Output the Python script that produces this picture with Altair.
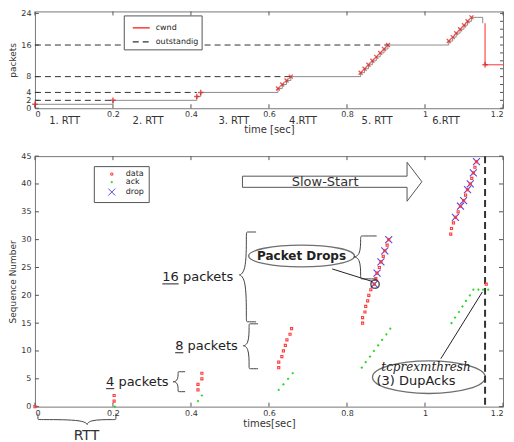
import altair as alt
import pandas as pd

FONT = "DejaVu Sans"

# ================= top panel data =================
cwnd_time = [0.0, 0.2, 0.415, 0.425, 0.623, 0.634, 0.645, 0.656,
             0.835, 0.845, 0.855, 0.865, 0.875, 0.885, 0.895, 0.905,
             1.061, 1.071, 1.080, 1.090, 1.100, 1.109, 1.119]
cwnd_value = [1, 2, 3, 4, 5, 6, 7, 8, 9, 10, 11, 12, 13, 14, 15, 16,
              17, 18, 19, 20, 21, 22, 23]
cwnd_tail_time = [1.135, 1.148]
cwnd_tail_value = [23, 21.5]
cut_time = [1.154, 1.154, 1.2]
cut_value = [21.5, 11, 11]
outstanding_level = [2, 4, 8, 16]
outstanding_end = [0.2, 0.415, 0.656, 0.905]
rtt_labels = ["1. RTT", "2. RTT", "3. RTT", "4.RTT", "5. RTT", "6.RTT"]
rtt_label_time = [0.076, 0.29, 0.51, 0.687, 0.877, 1.054]
top_y_ticks = [0, 2, 4, 8, 16, 24]
top_right_ticks = [0, 2, 4, 6, 8, 10, 12, 14, 16, 18, 20, 22, 24]
time_ticks = [0, 0.2, 0.4, 0.6, 0.8, 1.0, 1.2]

# ================= bottom panel data =================
data_time = [0.0, 0.203, 0.203, 0.418, 0.418, 0.428, 0.428,
             0.625, 0.625, 0.633, 0.637, 0.642, 0.646, 0.654, 0.658,
             0.840, 0.840, 0.846, 0.848, 0.853, 0.856, 0.861, 0.870,
             0.874, 0.877, 0.883, 0.887, 0.893, 0.897, 0.903, 0.907,
             1.066, 1.068, 1.073, 1.078, 1.085, 1.091, 1.099, 1.104,
             1.109, 1.116, 1.120, 1.124, 1.128, 1.132, 1.157]
data_seq = [0, 1, 2, 3, 4, 5, 6,
            7, 8, 9, 10, 11, 12, 13, 14,
            15, 16, 17, 18, 19, 20, 21, 22,
            23, 24, 25, 26, 27, 28, 29, 30,
            31, 32, 33, 34, 35, 36, 37, 38,
            39, 40, 41, 42, 43, 44, 22]
ack_time = [0.205, 0.418, 0.428, 0.625, 0.637, 0.649, 0.661,
            0.838, 0.848, 0.859, 0.869, 0.880, 0.890, 0.901, 0.911,
            1.068, 1.077, 1.087, 1.096, 1.105, 1.115, 1.124,
            1.137, 1.149, 1.162]
ack_seq = [0, 1, 2, 3, 4, 5, 6,
           7, 8, 9, 10, 11, 12, 13, 14,
           15, 16, 17, 18, 19, 20, 21,
           21, 21, 21]
drop_time = [0.870, 0.877, 0.887, 0.897, 0.907,
             1.078, 1.091, 1.099, 1.109, 1.116, 1.124, 1.132]
drop_seq = [22, 24, 26, 28, 30, 34, 36, 37, 39, 40, 42, 44]
seq_ticks = [0, 5, 10, 15, 20, 25, 30, 35, 40, 45]
retransmit_time = [1.154]

W = 469
H_TOP = 97
H_BOT = 251

xs = alt.Scale(domain=[0, 1.2], nice=False, zero=False)
ys_top = alt.Scale(domain=[0, 24.5], nice=False)
ys_bot = alt.Scale(domain=[0, 45], nice=False)

def x_axis(title, lp, tp):
    return alt.Axis(values=time_ticks, format=".1~f", title=title, ticks=False,
                    domain=False, grid=False, labelPadding=lp, titlePadding=tp,
                    labelFlush=True, labelOverlap=False,
                    labelFontSize=8, titleFontSize=10, labelFont=FONT, titleFont=FONT,
                    labelColor="#333", titleColor="#333", titleFontWeight="normal")

def y_axis(title, vals):
    return alt.Axis(values=vals, title=title, ticks=False, domain=False, grid=False,
                    labelPadding=4, titlePadding=1, minExtent=16, maxExtent=16,
                    labelOverlap=False, labelBound=False,
                    labelFontSize=8, titleFontSize=9, labelFont=FONT, titleFont=FONT,
                    labelColor="#333", titleColor="#333", titleFontWeight="normal")

XT = lambda f: alt.X(f, type="quantitative", scale=xs, axis=x_axis("time [sec]", 2, 6))
YT = lambda f: alt.Y(f, type="quantitative", scale=ys_top, axis=y_axis("packets", top_y_ticks))
XB = lambda f: alt.X(f, type="quantitative", scale=xs, axis=x_axis("times[sec]", 3, 1))
YB = lambda f: alt.Y(f, type="quantitative", scale=ys_bot, axis=y_axis("Sequence Number", seq_ticks))

XS_PATH = "M-1,-1L1,1M-1,1L1,-1"
PLUS_PATH = "M-1,0L1,0M0,-1L0,1"
SQ_PATH = "M-0.3,-0.3L0.3,-0.3L0.3,0.3L-0.3,0.3Z"
PLUS_SMALL = "M-0.32,0L0.32,0M0,-0.32L0,0.32"

# ---------------- top panel ----------------
step_df = pd.DataFrame({"t": cwnd_time + cwnd_tail_time,
                        "v": cwnd_value + cwnd_tail_value})
step_df["i"] = range(len(step_df))

rows = []
for lvl, end in zip(outstanding_level, outstanding_end):
    rows.append({"t": 0.0, "v": lvl, "series": "outstandig", "g": f"o{lvl}", "i": 0})
    rows.append({"t": end, "v": lvl, "series": "outstandig", "g": f"o{lvl}", "i": 1})
for k, (t, v) in enumerate(zip(cut_time, cut_value)):
    rows.append({"t": t, "v": v, "series": "cwnd", "g": "c", "i": k})
lines_df = pd.DataFrame(rows)

plus_df = pd.DataFrame({"t": cwnd_time[:4] + [cut_time[1]], "v": cwnd_value[:4] + [cut_value[1]]})
x_df = pd.DataFrame({"t": cwnd_time[4:], "v": cwnd_value[4:]})
rtt_df = pd.DataFrame({"t": rtt_label_time, "label": rtt_labels})

leg_top = alt.Legend(title=None, orient="none", legendX=89, legendY=4, direction="vertical",
                     strokeColor="#555", fillColor="white", padding=3, labelFontSize=8,
                     labelFont=FONT, labelColor="#222", symbolType="stroke", symbolSize=290,
                     symbolStrokeWidth=1.2, rowPadding=0, labelOffset=5, symbolOffset=5)

top_lines = alt.Chart(lines_df).mark_line(strokeWidth=1).encode(
    x=XT("t"), y=YT("v"),
    color=alt.Color("series:N", scale=alt.Scale(domain=["cwnd", "outstandig"], range=["#ff1010", "#333333"]), legend=leg_top),
    strokeDash=alt.StrokeDash("series:N", scale=alt.Scale(domain=["cwnd", "outstandig"], range=[[1, 0], [6, 4]]), legend=leg_top),
    detail="g:N", order="i:Q")

top_step = alt.Chart(step_df).mark_line(interpolate="step-after", color="#8c8c8c", strokeWidth=1).encode(
    x=XT("t"), y=YT("v"), order="i:Q")

top_plus = alt.Chart(plus_df).mark_point(shape=PLUS_PATH, size=30, color="#e01010", strokeWidth=1.5).encode(
    x=XT("t"), y=YT("v"))
top_x = alt.Chart(x_df).mark_point(shape=XS_PATH, size=16, color="#e01010", strokeWidth=1.3).encode(
    x=XT("t"), y=YT("v"))

top_rtt = alt.Chart(rtt_df).mark_text(font=FONT, fontSize=10, color="#333", baseline="middle").encode(
    x=XT("t"), y=alt.value(H_TOP + 13), text="label:N")

tx_df = pd.DataFrame({"t": time_ticks})
ty_df = pd.DataFrame({"v": top_y_ticks})
tr_df = pd.DataFrame({"v": top_right_ticks})
top_ticks = alt.layer(
    alt.Chart(tx_df).mark_rule(color="#555").encode(x=XT("t"), y=alt.value(H_TOP), y2=alt.value(H_TOP - 4)),
    alt.Chart(tx_df).mark_rule(color="#555").encode(x=XT("t"), y=alt.value(0), y2=alt.value(4)),
    alt.Chart(ty_df).mark_rule(color="#555").encode(y=YT("v"), x=alt.value(0), x2=alt.value(4)),
    alt.Chart(tr_df).mark_rule(color="#555").encode(y=YT("v"), x=alt.value(W), x2=alt.value(W - 3)),
)

top = alt.layer(top_ticks, top_step, top_lines, top_x, top_plus, top_rtt).properties(width=W, height=H_TOP)

# ---------------- bottom panel ----------------
pts = pd.concat([
    pd.DataFrame({"t": drop_time, "v": drop_seq, "kind": "drop"}),
    pd.DataFrame({"t": ack_time, "v": ack_seq, "kind": "ack"}),
    pd.DataFrame({"t": data_time, "v": data_seq, "kind": "data"}),
], ignore_index=True)

leg_bot = alt.Legend(title=None, orient="none", legendX=59, legendY=10, direction="vertical",
                     strokeColor="#555", fillColor="white", padding=4, labelFontSize=8,
                     labelFont=FONT, labelColor="#222", symbolSize=49, symbolStrokeWidth=1,
                     rowPadding=0, labelOffset=10, symbolOffset=10)

kinds = ["data", "ack", "drop"]
bot_pts = alt.Chart(pts).mark_point(size=49, strokeWidth=1.1, opacity=1).encode(
    x=XB("t"), y=YB("v"),
    color=alt.Color("kind:N", scale=alt.Scale(domain=kinds, range=["#ff3b3b", "#22d822", "#5548e0"]), legend=leg_bot),
    shape=alt.Shape("kind:N", scale=alt.Scale(domain=kinds, range=[SQ_PATH, PLUS_SMALL, XS_PATH]), legend=leg_bot),
    order=alt.Order("kind:N", sort="descending"))

vline = alt.Chart(pd.DataFrame({"t": retransmit_time})).mark_rule(
    color="#333", strokeWidth=2, strokeDash=[7, 4]).encode(x=XB("t"))

# slow-start arrow outline
arrow_t = [0.532, 0.954, 0.954, 0.992, 0.954, 0.954, 0.532, 0.532]
arrow_v = [41.4, 41.4, 43.9, 40.4, 36.9, 39.4, 39.4, 41.4]
arrow_df = pd.DataFrame({"t": arrow_t, "v": arrow_v, "i": range(len(arrow_t))})
arrow = alt.Chart(arrow_df).mark_line(color="#555", strokeWidth=1).encode(x=XB("t"), y=YB("v"), order="i:Q")

def vbrace(g, x_arm, x_spine, x_tip, y_top, y_bot, y_mid):
    tip = x_spine - 1.5 * (x_spine - x_tip)
    xx = [x_arm, x_spine, x_spine, x_spine, tip, x_spine, x_spine, x_spine, x_arm]
    yy = [y_top, y_top, y_top, y_mid, y_mid, y_mid, y_bot, y_bot, y_bot]
    return [{"t": a, "v": b, "g": g, "i": k} for k, (a, b) in enumerate(zip(xx, yy))]

def hbrace(g, x_left, x_right, x_tip, y_arm, y_spine, y_tip):
    tip = y_spine - 1.5 * (y_spine - y_tip)
    xx = [x_left, x_left, x_left, x_tip, x_tip, x_tip, x_right, x_right, x_right]
    yy = [y_arm, y_spine, y_spine, y_spine, tip, y_spine, y_spine, y_spine, y_arm]
    return [{"t": a, "v": b, "g": g, "i": k} for k, (a, b) in enumerate(zip(xx, yy))]

brace_rows = (vbrace("drops", 0.876, 0.835, 0.818, 30.66, 22.95, 26.9)
              + vbrace("b16", 0.567, 0.542, 0.524, 31.37, 15.24, 23.66)
              + vbrace("b8", 0.572, 0.549, 0.534, 14.88, 6.81, 10.94)
              + vbrace("b4", 0.385, 0.367, 0.354, 6.27, 2.69, 4.48)
              + hbrace("rtt", 0.0076, 0.2076, 0.134, -1.25, -2.33, -3.23))
braces = alt.Chart(pd.DataFrame(brace_rows)).mark_line(
    interpolate="basis", color="#444", strokeWidth=1).encode(
    x=XB("t"), y=YB("v"), detail="g:N", order="i:Q")

conn_df = pd.DataFrame({"t": [0.762, 0.864, 1.0405, 1.147], "v": [24.74, 22.5, 8.6, 20.6],
                        "g": ["a", "a", "b", "b"], "i": [0, 1, 0, 1]})
connectors = alt.Chart(conn_df).mark_line(color="#222", strokeWidth=1).encode(
    x=XB("t"), y=YB("v"), detail="g:N", order="i:Q")

def ellipse_path(r):
    k = 0.5523
    return (f"M-1,0C-1,{-k*r:.4f},{-k:.4f},{-r:.4f},0,{-r:.4f}"
            f"C{k:.4f},{-r:.4f},1,{-k*r:.4f},1,0"
            f"C1,{k*r:.4f},{k:.4f},{r:.4f},0,{r:.4f}"
            f"C{-k:.4f},{r:.4f},-1,{k*r:.4f},-1,0Z")

ell1 = alt.Chart(pd.DataFrame({"t": [0.6835], "v": [27.07]})).mark_point(
    shape=ellipse_path(0.206), size=106 ** 2, color="#333", strokeWidth=1.3, filled=False).encode(
    x=XB("t"), y=YB("v"))
ell2 = alt.Chart(pd.DataFrame({"t": [1.010], "v": [5.29]})).mark_point(
    shape=ellipse_path(0.289), size=113 ** 2, color="#333", strokeWidth=1.3, filled=False).encode(
    x=XB("t"), y=YB("v"))
circ = alt.Chart(pd.DataFrame({"t": [0.872], "v": [22.0]})).mark_point(
    shape="circle", size=70, color="#111", strokeWidth=1.5, filled=False).encode(
    x=XB("t"), y=YB("v"))

txt_main = pd.DataFrame({"t": [0.3266, 0.3595, 0.1823], "v": [23.3, 10.94, 4.48],
                         "label": ["16 packets", "8 packets", "4 packets"]})
t_packets = alt.Chart(txt_main).mark_text(font=FONT, fontSize=13, color="#222", align="left",
                                          baseline="middle").encode(x=XB("t"), y=YB("v"), text="label:N")
ul_df = pd.DataFrame({"t": [0.3266, 0.3595, 0.1823], "t2": [0.3684, 0.3805, 0.2033],
                      "v": [22.05, 9.68, 3.23]})
underlines = alt.Chart(ul_df).mark_rule(color="#222", strokeWidth=1).encode(
    x=XB("t"), x2="t2:Q", y=YB("v"))

t_drops = alt.Chart(pd.DataFrame({"t": [0.6835], "v": [27.07], "label": ["Packet Drops"]})).mark_text(
    font=FONT, fontSize=12, fontWeight="bold", color="#222", baseline="middle").encode(
    x=XB("t"), y=YB("v"), text="label:N")
t_slow = alt.Chart(pd.DataFrame({"t": [0.744], "v": [40.4], "label": ["Slow-Start"]})).mark_text(
    font=FONT, fontSize=13, color="#333", baseline="middle").encode(
    x=XB("t"), y=YB("v"), text="label:N")
t_thresh = alt.Chart(pd.DataFrame({"t": [1.0025], "v": [7.17], "label": ["tcprexmthresh"]})).mark_text(
    font="DejaVu Serif", fontSize=12, fontStyle="italic", color="#222", baseline="middle").encode(
    x=XB("t"), y=YB("v"), text="label:N")
t_dup = alt.Chart(pd.DataFrame({"t": [0.977], "v": [4.6], "label": ["(3) DupAcks"]})).mark_text(
    font=FONT, fontSize=13, color="#222", baseline="middle").encode(
    x=XB("t"), y=YB("v"), text="label:N")
t_rtt = alt.Chart(pd.DataFrame({"t": [0.132], "v": [-5.2], "label": ["RTT"]})).mark_text(
    font=FONT, fontSize=14, color="#333", baseline="middle").encode(
    x=XB("t"), y=YB("v"), text="label:N")

bx_df = pd.DataFrame({"t": time_ticks})
by_df = pd.DataFrame({"v": seq_ticks})
bot_ticks = alt.layer(
    alt.Chart(bx_df).mark_rule(color="#555").encode(x=XB("t"), y=alt.value(H_BOT), y2=alt.value(H_BOT - 4)),
    alt.Chart(bx_df).mark_rule(color="#555").encode(x=XB("t"), y=alt.value(0), y2=alt.value(4)),
    alt.Chart(by_df).mark_rule(color="#555").encode(y=YB("v"), x=alt.value(0), x2=alt.value(4)),
    alt.Chart(by_df).mark_rule(color="#555").encode(y=YB("v"), x=alt.value(W), x2=alt.value(W - 4)),
)

bottom = alt.layer(bot_ticks, vline, arrow, braces, connectors, ell1, ell2, bot_pts, circ,
                   t_packets, underlines, t_drops, t_slow, t_thresh, t_dup, t_rtt
                   ).properties(width=W, height=H_BOT)

chart = alt.vconcat(top, bottom, spacing=16).resolve_scale(
    x="independent", y="independent", color="independent", shape="independent",
    strokeDash="independent").resolve_legend(
    color="independent", shape="independent", strokeDash="independent"
).properties(padding=0, background="white").configure_view(stroke="#777", strokeWidth=1)

chart.save("out.html", embed_options={"renderer": "svg", "actions": False})
